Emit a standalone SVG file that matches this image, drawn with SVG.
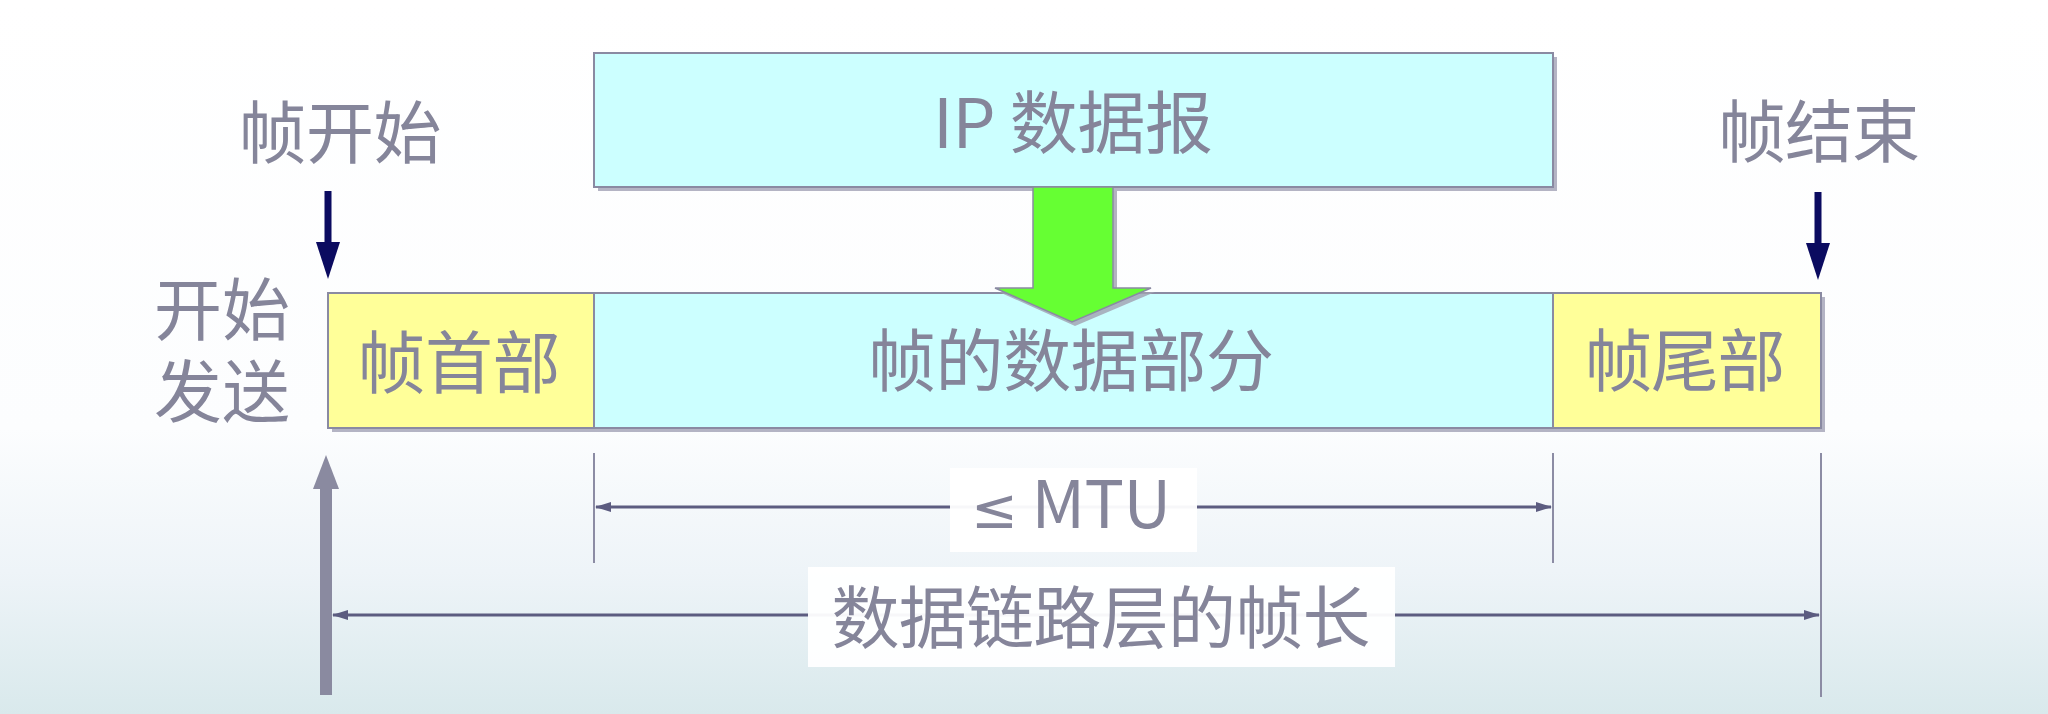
<svg xmlns="http://www.w3.org/2000/svg" width="2048" height="714" viewBox="0 0 2048 714">
<defs>
<linearGradient id="bg" x1="0" y1="0" x2="0" y2="1">
<stop offset="0" stop-color="#ffffff"/>
<stop offset="0.6" stop-color="#fcfdfe"/>
<stop offset="0.8" stop-color="#eef4f8"/>
<stop offset="1" stop-color="#d9e9ec"/>
</linearGradient>
<marker id="dimL" markerWidth="16" markerHeight="10" refX="1" refY="5" orient="auto" markerUnits="userSpaceOnUse">
<path d="M16,0 L0,5 L16,10 Z" fill="#5c5c80"/>
</marker>
<marker id="dimR" markerWidth="16" markerHeight="10" refX="15" refY="5" orient="auto" markerUnits="userSpaceOnUse">
<path d="M0,0 L16,5 L0,10 Z" fill="#5c5c80"/>
</marker>
</defs>
<style>
.t{font-family:"Noto Sans CJK SC","Noto Sans",sans-serif;font-size:68px;fill:#85859a;text-anchor:middle}
.box{stroke:#8a8aa2;stroke-width:2}
.cy{fill:#ccffff}
.ye{fill:#ffff99}
.sh{fill:#b4b4c4}
.tick{stroke:#8c8ca4;stroke-width:2}
.dim{stroke:#5c5c80;stroke-width:3;fill:none}
.navy{fill:#0b0b60}
</style>
<rect width="2048" height="714" fill="url(#bg)"/>

<g id="ip-datagram">
<rect class="sh" x="598" y="57" width="959" height="134"/>
<rect class="box cy" x="594" y="53" width="959" height="134"/>
<text class="t" x="1073" y="148" textLength="280" lengthAdjust="spacing">IP 数据报</text>
</g>

<g id="frame-header">
<rect class="sh" x="332" y="297" width="266" height="135"/>
<rect class="box ye" x="328" y="293" width="266" height="135"/>
<text class="t" x="459" y="388" textLength="203" lengthAdjust="spacing">帧首部</text>
</g>

<g id="frame-data">
<rect class="sh" x="598" y="297" width="959" height="135"/>
<rect class="box cy" x="594" y="293" width="959" height="135"/>
<text class="t" x="1071" y="386" textLength="406" lengthAdjust="spacing">帧的数据部分</text>
</g>

<g id="frame-trailer">
<rect class="sh" x="1557" y="297" width="268" height="135"/>
<rect class="box ye" x="1553" y="293" width="268" height="135"/>
<text class="t" x="1685" y="386" textLength="201" lengthAdjust="spacing">帧尾部</text>
</g>

<g id="label-start">
<text class="t" x="340" y="158" textLength="203" lengthAdjust="spacing">帧开始</text>
</g>
<g id="label-end">
<text class="t" x="1819" y="157" textLength="202" lengthAdjust="spacing">帧结束</text>
</g>
<g id="label-send">
<text class="t"><tspan x="222" y="335">开始</tspan><tspan x="222" y="417">发送</tspan></text>
</g>

<g id="connectors">
<path d="M1037,191 L1117,191 L1117,292 L1155,292 L1075,326 L999,292 L1037,292 Z" fill="#a0a0b0" opacity="0.8"/>
<path d="M1033,187 L1113,187 L1113,288 L1151,288 L1072,322 L995,288 L1033,288 Z" fill="#66ff33" stroke="#8a8aa2" stroke-width="1.5"/>
<rect class="navy" x="324.5" y="191" width="7" height="54"/>
<path class="navy" d="M316,242 L340,242 L328,279 Z"/>
<rect class="navy" x="1814.5" y="192" width="7" height="54"/>
<path class="navy" d="M1806,243 L1830,243 L1818,280 Z"/>
<line class="tick" x1="594" y1="453" x2="594" y2="563"/>
<line class="tick" x1="1553" y1="453" x2="1553" y2="563"/>
<line class="tick" x1="1821" y1="453" x2="1821" y2="697"/>
<rect x="320" y="486" width="12" height="209" fill="#8a8aa0"/>
<path d="M313,489 L339,489 L326,455 Z" fill="#8a8aa0"/>
<line class="dim" x1="596" y1="507" x2="1551" y2="507" marker-start="url(#dimL)" marker-end="url(#dimR)"/>
<line class="dim" x1="333" y1="615" x2="1819" y2="615" marker-start="url(#dimL)" marker-end="url(#dimR)"/>
</g>

<g id="label-mtu">
<rect x="950" y="468" width="247" height="84" fill="#ffffff" opacity="0.95"/>
<text class="t" x="1071" y="528" style="font-size:66px" textLength="200" lengthAdjust="spacing"><tspan style="font-family:'DejaVu Sans',sans-serif;font-size:56px">≤</tspan> MTU</text>
</g>
<g id="label-frame-length">
<rect x="808" y="567" width="587" height="100" fill="#ffffff" opacity="0.95"/>
<text class="t" x="1101" y="643" textLength="539" lengthAdjust="spacing">数据链路层的帧长</text>
</g>
</svg>
